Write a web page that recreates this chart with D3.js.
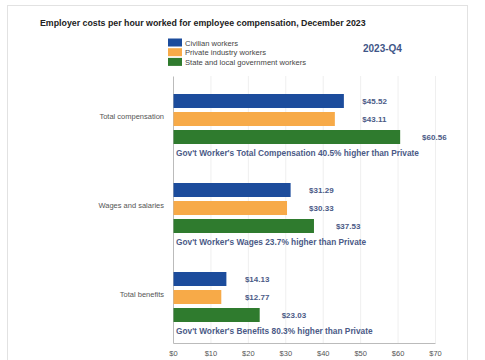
<!DOCTYPE html>
<html><head><meta charset="utf-8">
<script src="https://cdn.jsdelivr.net/npm/d3@7"></script>
<style>body{margin:0;background:#fff;}svg{display:block;font-family:"Liberation Sans",Arial,sans-serif;}</style>
</head><body>
<svg id="c" width="485" height="360"></svg>
<script>
const categories = ["Total compensation", "Wages and salaries", "Total benefits"];
const seriesNames = ["Civilian workers", "Private industry workers", "State and local government workers"];
const civilian = [45.52, 31.29, 14.13];
const privateInd = [43.11, 30.33, 12.77];
const government = [60.56, 37.53, 23.03];
const notes = [
  "Gov't Worker's Total Compensation 40.5% higher than Private",
  "Gov't Worker's Wages 23.7% higher than Private",
  "Gov't Worker's Benefits 80.3% higher than Private"
];
const xTicks = [0, 10, 20, 30, 40, 50, 60, 70];
const colors = ["#1c4c9c", "#f7aa48", "#2f7b2e"];
const labelColor = "#4b5a86";

const svg = d3.select("#c");
// frame
svg.append("rect").attr("x", 7.5).attr("y", 5.5).attr("width", 460).attr("height", 370)
  .attr("fill", "#fff").attr("stroke", "#e2e2e2");

const m = {left: 173, right: 435, top: 76, bottom: 343};
const x = d3.scaleLinear().domain([0, 70]).range([m.left, m.right]);
const y = d3.scaleBand().domain(categories).range([m.top, m.bottom]);
const ys = d3.scaleBand().domain(seriesNames).range([18, 68]).paddingInner(4/18).paddingOuter(0);

// title
svg.append("text").attr("x", 40).attr("y", 26).attr("font-size", 8.8).attr("font-weight", "bold")
  .attr("fill", "#222").text("Employer costs per hour worked for employee compensation, December 2023");

// legend
seriesNames.forEach((s, i) => {
  const g = svg.append("g").attr("transform", `translate(168,${38.5 + i * 9.7})`);
  g.append("rect").attr("width", 14).attr("height", 8).attr("fill", colors[i]);
  g.append("text").attr("x", 17).attr("y", 7).attr("font-size", 7.6).attr("fill", "#444").text(s);
});
svg.append("text").attr("x", 363).attr("y", 51.5).attr("font-size", 10).attr("font-weight", "bold")
  .attr("fill", "#3f5688").text("2023-Q4");

// gridlines
svg.append("g").selectAll("line").data(xTicks.slice(1)).join("line")
  .attr("x1", d => x(d) + 0.5).attr("x2", d => x(d) + 0.5)
  .attr("y1", m.top).attr("y2", m.bottom).attr("stroke", "#efefef");

// x axis
const xa = svg.append("g").attr("transform", `translate(0,${m.bottom})`)
  .call(d3.axisBottom(x).tickValues(xTicks).tickFormat(d => "$" + d).tickSize(0).tickPadding(8));
xa.select(".domain").attr("stroke", "#bbb");
xa.selectAll("text").attr("font-size", 7.5).attr("fill", "#555").attr("font-family", "Liberation Sans, Arial, sans-serif");

// y axis
const ya = svg.append("g").attr("transform", `translate(${m.left},0)`)
  .call(d3.axisLeft(y).tickSize(0).tickPadding(9));
ya.select(".domain").attr("stroke", "#bbb");
ya.selectAll(".tick").attr("transform", d => `translate(0,${y(d) + ys(seriesNames[1]) + ys.bandwidth() / 2 - 2})`);
ya.selectAll("text").attr("font-size", 7.5).attr("fill", "#555").attr("font-family", "Liberation Sans, Arial, sans-serif");

const allSeries = [civilian, privateInd, government];
categories.forEach((c, ci) => {
  const g = svg.append("g").attr("transform", `translate(0,${y(c)})`);
  const vals = allSeries.map(s => s[ci]);
  g.selectAll("rect").data(vals).join("rect")
    .attr("x", x(0) + 0.5).attr("y", (d, i) => ys(seriesNames[i]))
    .attr("width", d => x(d) - x(0)).attr("height", ys.bandwidth())
    .attr("fill", (d, i) => colors[i]);
  const lx = [x(Math.max(vals[0], vals[1])) + 19, x(Math.max(vals[0], vals[1])) + 19, x(vals[2] + 6)];
  g.selectAll("text.v").data(vals).join("text").attr("class", "v")
    .attr("x", (d, i) => lx[i]).attr("y", (d, i) => ys(seriesNames[i]) + ys.bandwidth() / 2 + 3)
    .attr("font-size", 8).attr("font-weight", "bold").attr("fill", labelColor)
    .text(d => "$" + d.toFixed(2));
  g.append("text").attr("x", 176).attr("y", ys(seriesNames[2]) + ys.bandwidth() + 12)
    .attr("font-size", 8.3).attr("font-weight", "bold").attr("fill", labelColor).text(notes[ci]);
});
</script>
</body></html>
